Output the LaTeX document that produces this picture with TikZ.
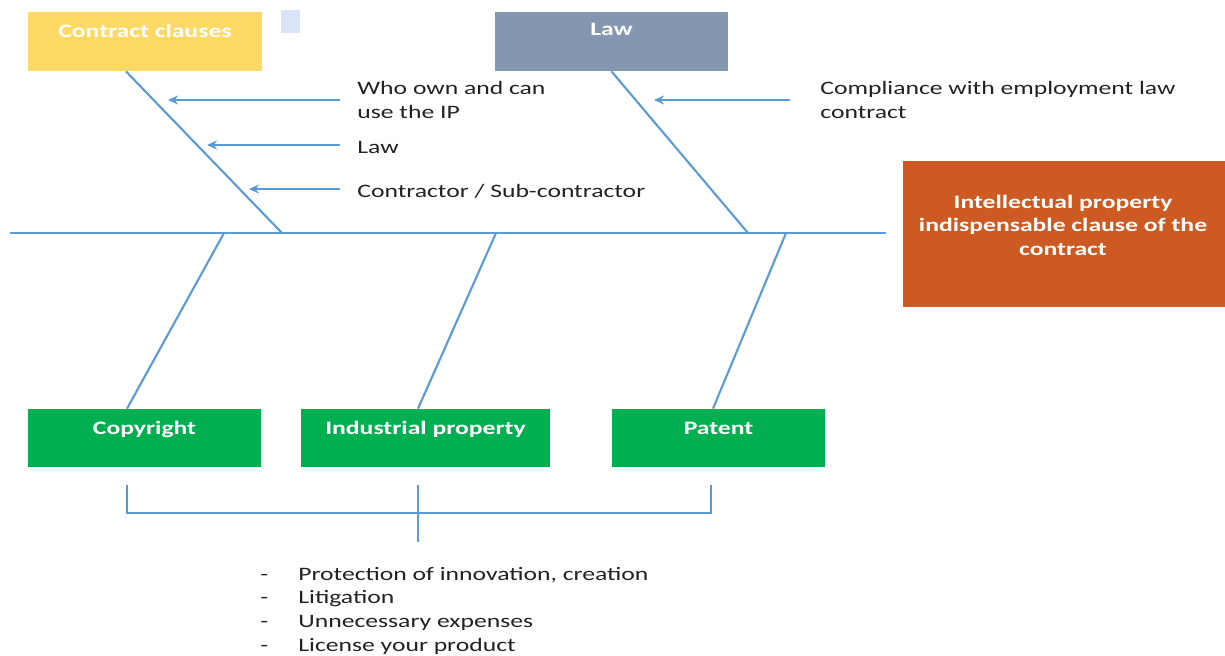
\documentclass[tikz,border=0pt]{standalone}
\usepackage{fontspec}
\setmainfont{Carlito}[FakeStretch=1.35]
\usetikzlibrary{arrows.meta,calc}
\definecolor{bone}{HTML}{5B9BD5}
\definecolor{gold}{HTML}{FFD966}
\definecolor{lawc}{HTML}{8497B0}
\definecolor{ipc}{HTML}{CC5A22}
\definecolor{grn}{HTML}{00B050}
\definecolor{sq}{HTML}{D9E5F7}
\definecolor{txt}{HTML}{222222}
\tikzset{
  line/.style={draw=bone, line width=1.05pt},
  arr/.style={line, -{Stealth[length=5pt,width=4.5pt]}},
  topbox/.style={inner sep=0pt, text=white, font=\fontsize{9.5}{12}\selectfont\bfseries,
    text height=12.5pt, text depth=17pt, minimum height=29.5pt},
  botbox/.style={inner sep=0pt, fill=grn, text=white, font=\fontsize{9.5}{12}\selectfont\bfseries,
    text height=12.5pt, text depth=16.5pt, minimum height=29pt},
  lbl/.style={inner sep=0pt, anchor=north west, align=left, text=txt, font=\fontsize{9.5}{12}\selectfont},
}
\begin{document}
\begin{tikzpicture}[x=0.5pt,y=-0.5pt]
\useasboundingbox (0,0) rectangle (1225,655);
% top boxes
\node[topbox, fill=gold, minimum width=117pt] (cc) at (145,41.5) {Contract clauses};
\node[topbox, fill=lawc, minimum width=116.5pt, text height=11.5pt, text depth=18pt] (law) at (611.5,41.5) {Law};
\node[fill=sq, inner sep=0pt, minimum width=9.5pt, minimum height=11.5pt] (sqr) at (290.5,21.5) {};
% head box
\node[fill=ipc, inner sep=0pt, minimum width=161pt, minimum height=73pt] (ip) at (1064,234) {};
\node[inner sep=0pt, align=center, text=white, font=\fontsize{9.5}{11.8}\selectfont\bfseries] (iptxt) at (1063,225)
  {Intellectual property\\indispensable clause of the\\contract};
% bottom boxes
\node[botbox, minimum width=116.5pt] (cop) at (144.5,438) {Copyright};
\node[botbox, minimum width=124.5pt] (ind) at (425.5,438) {Industrial property};
\node[botbox, minimum width=106.5pt] (pat) at (718.5,438) {Patent};
% spine
\coordinate (sp0) at (10,233);
\draw[line] (sp0) -- ([xshift=-8.5pt]ip.west |- sp0);
% spine points
\coordinate (s1) at (282,233);
\coordinate (s2) at (748,233);
\coordinate (s3) at (224,233);
\coordinate (s4) at (496,233);
\coordinate (s5) at (786,233);
% top bones
\draw[line] ([xshift=-9.5pt]cc.south) -- (s1);
\draw[line] (law.south) -- (s2);
% bottom bones
\draw[line] (s3) -- ([xshift=-8.75pt]cop.north);
\draw[line] (s4) -- ([xshift=-3.75pt]ind.north);
\draw[line] (s5) -- ([xshift=-2.75pt]pat.north);
% sub-cause labels
\node[lbl] (w1) at (357,81) {Who own and can\\use the IP};
\node[lbl] (w2) at (357,141) {Law};
\node[lbl] (w3) at (357,184) {Contractor / Sub-contractor};
\node[lbl] (w4) at (820,81) {Compliance with employment law\\contract};
% arrows
\coordinate (t1) at (340,100); \coordinate (h1) at (168,100);
\coordinate (t2) at (340,145); \coordinate (h2) at (207,145);
\coordinate (t3) at (340,189); \coordinate (h3) at (249,189);
\coordinate (t4) at (790,100); \coordinate (h4) at (654,100);
\draw[arr] (t1) -- (h1);
\draw[arr] (t2) -- (h2);
\draw[arr] (t3) -- (h3);
\draw[arr] (t4) -- (h4);
% bracket
\coordinate (b1) at (127,485); \coordinate (b2) at (418,485); \coordinate (b3) at (711,485);
\coordinate (c1) at (127,513); \coordinate (c3) at (711,513); \coordinate (c2) at (418,542);
\draw[line] (b1) -- (c1) -- (c3) -- (b3);
\draw[line] (b2) -- (c2);
% list
\node[lbl, font=\fontsize{9.5}{11.85}\selectfont] (lst) at (260,566.5)
  {\makebox[19pt][l]{-}Protection of innovation, creation\\
   \makebox[19pt][l]{-}Litigation\\
   \makebox[19pt][l]{-}Unnecessary expenses\\
   \makebox[19pt][l]{-}License your product};
\end{tikzpicture}
\end{document}
